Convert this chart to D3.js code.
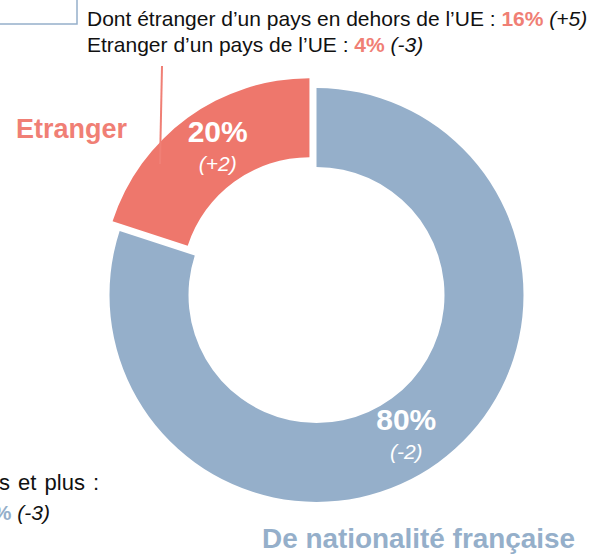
<!DOCTYPE html>
<html lang="fr">
    <head>
        <meta charset="utf-8">
        <title>Nationalité</title>
        <script type="text/javascript" src="https://d3js.org/d3.v7.min.js"></script>
        <style type="text/css">
          body {
            margin: 0;
            background: white;
          }
          svg text {
            font-family: "Liberation Sans", Arial, sans-serif;
          }
        </style>
    </head>
    <body>
        <script type="text/javascript">
          var w = 599;
          var h = 555;

          // Data
          var categories = ["De nationalité française", "Etranger"];
          var values = [80, 20];
          var changes = ["(-2)", "(+2)"];
          var colors = ["#95afca", "#ee776c"];
          var textColors = ["#95afca", "#f07f75"];

          // detail lines at the top (label, value, change)
          var detailLabels = ["Dont étranger d\u2019un pays en dehors de l\u2019UE : ", "Etranger d\u2019un pays de l\u2019UE : "];
          var detailValues = ["16%", "4%"];
          var detailChanges = ["(+5)", "(-3)"];

          var cx = 316.5;
          var cy = 295;
          var outerR = 207;
          var innerR = 128;
          var explode = 12;

          var svg = d3.select("body").append("svg")
            .attr("width", w)
            .attr("height", h);

          // cropped box top-left
          svg.append("rect")
            .attr("x", -10).attr("y", -10)
            .attr("width", 87).attr("height", 34)
            .attr("fill", "white")
            .attr("stroke", "#95afca")
            .attr("stroke-width", 1.5);

          var pie = d3.pie().sort(null).value(function(d){ return d; });
          var arcs = pie(values);

          var arc = d3.arc().innerRadius(innerR).outerRadius(outerR);
          var labelArc = d3.arc().innerRadius(168).outerRadius(168);

          function shift(d, i) {
            if (categories[i] != "Etranger") return [0, 0];
            var a = (d.startAngle + d.endAngle) / 2;
            return [Math.sin(a) * explode, -Math.cos(a) * explode];
          }

          var g = svg.append("g")
            .attr("transform", "translate(" + cx + "," + cy + ")");

          g.selectAll("path")
            .data(arcs)
            .enter()
            .append("path")
            .attr("d", arc)
            .attr("fill", function(d, i){ return colors[i]; })
            .attr("transform", function(d, i){
              var s = shift(d, i);
              return "translate(" + s[0] + "," + s[1] + ")";
            });

          // leader line for the Etranger slice
          svg.append("line")
            .attr("x1", 162).attr("y1", 66)
            .attr("x2", 160).attr("y2", 164)
            .attr("stroke", "#f07f75")
            .attr("stroke-width", 2);

          // percent labels in the slices
          var nudge = [[-9, 6], [7, 0]];
          arcs.forEach(function(d, i) {
            var c = labelArc.centroid(d);
            var s = shift(d, i);
            var x = c[0] + s[0] + nudge[i][0];
            var y = c[1] + s[1] + nudge[i][1];
            g.append("text")
              .attr("x", x).attr("y", y - 7)
              .attr("text-anchor", "middle")
              .attr("fill", "white")
              .attr("font-weight", "bold")
              .attr("font-size", 30)
              .text(values[i] + "%");
            g.append("text")
              .attr("x", x).attr("y", y + 22)
              .attr("text-anchor", "middle")
              .attr("fill", "white")
              .attr("font-style", "italic")
              .attr("font-size", 21)
              .text(changes[i]);
          });

          // category labels
          svg.append("text")
            .attr("x", 16).attr("y", 138)
            .attr("fill", textColors[1])
            .attr("font-weight", "bold")
            .attr("font-size", 27)
            .text(categories[1]);

          svg.append("text")
            .attr("x", 262).attr("y", 548)
            .attr("fill", textColors[0])
            .attr("font-weight", "bold")
            .attr("font-size", 27.9)
            .text(categories[0]);

          // detail text at top
          detailLabels.forEach(function(lab, i) {
            var t = svg.append("text")
              .attr("x", 87).attr("y", 26 + i * 26)
              .attr("font-size", 21)
              .attr("fill", "#111");
            t.append("tspan").text(lab);
            t.append("tspan").attr("font-weight", "bold").attr("fill", textColors[1]).text(detailValues[i]);
            t.append("tspan").text(" ");
            t.append("tspan").attr("font-style", "italic").text(detailChanges[i]);
          });

          // cropped text bottom-left
          svg.append("text")
            .attr("x", -1).attr("y", 490)
            .attr("font-size", 22)
            .attr("word-spacing", 2)
            .attr("fill", "#111")
            .text("s et plus :");

          var t2 = svg.append("text")
            .attr("x", 50).attr("y", 520)
            .attr("text-anchor", "end")
            .attr("font-size", 21)
            .attr("fill", "#111");
          t2.append("tspan").attr("font-weight", "bold").attr("fill", textColors[0]).text("%");
          t2.append("tspan").text(" ");
          t2.append("tspan").attr("font-style", "italic").text("(-3)");
        </script>
    </body>
</html>
